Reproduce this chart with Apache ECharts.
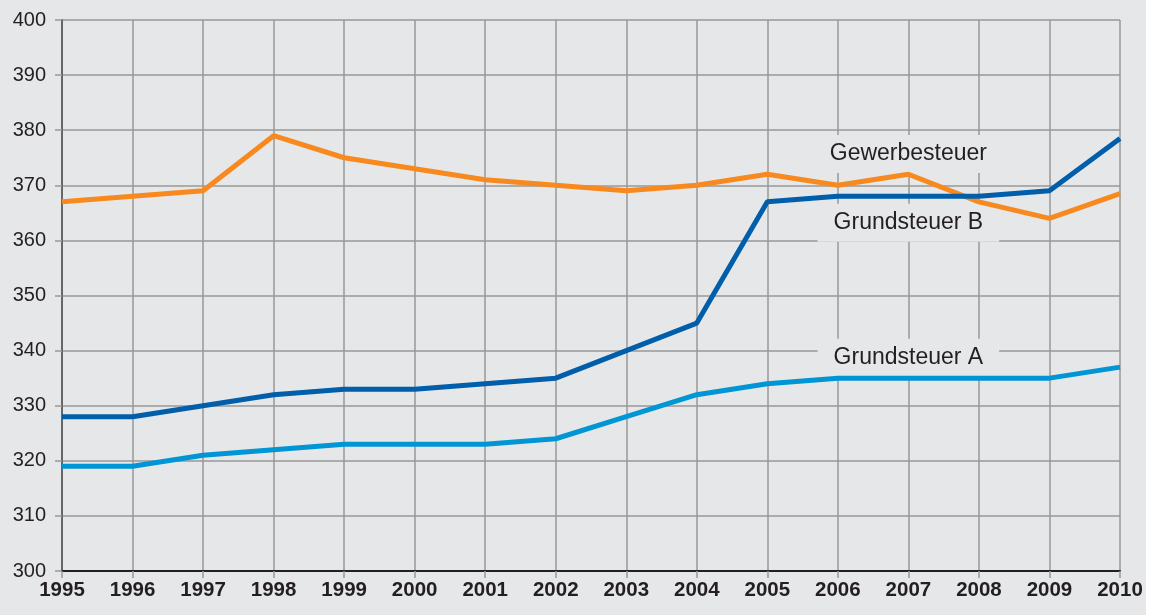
<!DOCTYPE html>
<html><head><meta charset="utf-8">
<script src="https://cdn.jsdelivr.net/npm/echarts@6/dist/echarts.min.js"></script>
<style>html,body{margin:0;padding:0;background:#fff;}#c{width:1146px;height:615px;background:#e6e7e8;}</style>
</head><body><div id="c"></div>
<script>
const years = ['1995','1996','1997','1998','1999','2000','2001','2002','2003','2004','2005','2006','2007','2008','2009','2010'];
const gewerbesteuer = [367,368,369,379,375,373,371,370,369,370,372,370,372,367,364,368.5];
const grundsteuerB = [328,328,330,332,333,333,334,335,340,345,367,368,368,368,369,378.5];
const grundsteuerA = [319,319,321,322,323,323,323,324,328,332,334,335,335,335,335,337];
const labelNames = ['Gewerbesteuer','Grundsteuer B','Grundsteuer A'];
const labelPos = [['2007',375.7],['2007',363.2],['2007',338.7]];
const colors = ['#f7891f','#005eab','#0096d6'];
const bg = '#e6e7e8';
const font = '"Liberation Sans", Arial, Helvetica, sans-serif';

const chart = echarts.init(document.getElementById('c'));
function mk(name, data, color){
  return { name, type:'line', data, symbol:'none', smooth:false, lineStyle:{color, width:5}, z:3 };
}
chart.setOption({
  animation:false,
  backgroundColor:bg,
  grid:{left:62, right:26, top:20, bottom:44, containLabel:false},
  xAxis:{type:'category', data:years, boundaryGap:false,
    axisLine:{show:true, onZero:false, lineStyle:{color:'#231f20', width:2}},
    axisTick:{show:true, alignWithLabel:true, length:7, lineStyle:{color:'#999', width:1.5}},
    axisLabel:{color:'#231f20', fontFamily:font, fontSize:20.5, fontWeight:'bold', margin:9, interval:0},
    splitLine:{show:true, interval:0, lineStyle:{color:'#999', width:1.5}}
  },
  yAxis:{type:'value', min:300, max:400, interval:10,
    axisLine:{show:true, lineStyle:{color:'#666', width:2}},
    axisTick:{show:true, length:7, lineStyle:{color:'#999', width:1.5}},
    axisLabel:{color:'#231f20', fontFamily:font, fontSize:20, margin:16},
    splitLine:{show:true, lineStyle:{color:'#999', width:1.5}}
  },
  series:[
    {
      name:'labels', type:'line', data:[], z:1, silent:true,
      markPoint:{
        symbol:'rect', symbolSize:0, silent:true, z:1,
        data: labelNames.map((n,i)=>({coord:labelPos[i], value:n})),
        label:{show:true, position:'inside', formatter:p=>p.value, color:'#231f20',
          fontFamily:font, fontSize:23, backgroundColor:bg, padding:[9,16,6,16]}
      }
    },
    mk('Gewerbesteuer', gewerbesteuer, colors[0]),
    mk('Grundsteuer B', grundsteuerB, colors[1]),
    mk('Grundsteuer A', grundsteuerA, colors[2])
  ]
});
</script></body></html>
